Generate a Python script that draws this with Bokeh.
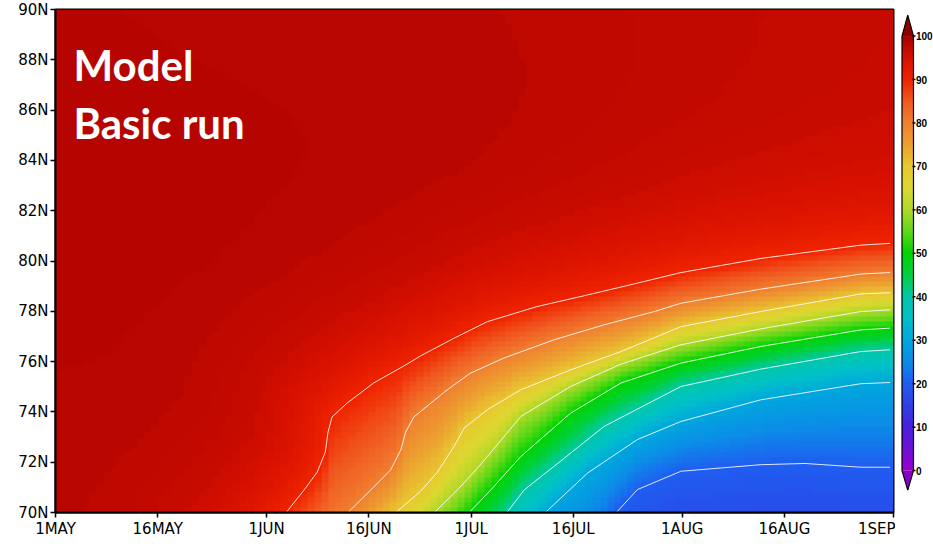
import numpy as np
from bokeh.plotting import figure
from bokeh.layouts import row
from bokeh.models import LinearColorMapper, Range1d, FixedTicker, Label
from bokeh.core.properties import value
from bokeh.embed import file_html
from bokeh.resources import INLINE

# ---------------- data ----------------
x_tick_days = [0, 15, 31, 46, 61, 76, 92, 107, 123]
x_tick_labels = ["1MAY", "16MAY", "1JUN", "16JUN", "1JUL", "16JUL", "1AUG", "16AUG", "1SEP"]
y_tick_lats = [70, 72, 74, 76, 78, 80, 82, 84, 86, 88, 90]
y_tick_labels = ["70N", "72N", "74N", "76N", "78N", "80N", "82N", "84N", "86N", "88N", "90N"]
cbar_ticks = [0, 10, 20, 30, 40, 50, 60, 70, 80, 90, 100]
cbar_labels = ["0", "10", "20", "30", "40", "50", "60", "70", "80", "90", "100"]

# contour lines of sea-ice concentration (%): day since 1 May vs latitude
c90_days = [28.0, 34.0, 36.5, 38.4, 39.6, 40.0, 40.6, 42.8, 46.7, 51.6, 53.6, 58.5, 63.4, 70.7, 78.1, 85.4, 91.8, 103.5, 118.2, 122.5]
c90_lats = [68.0, 70.05, 70.9, 71.6, 72.4, 73.2, 73.8, 74.35, 75.15, 75.9, 76.23, 76.93, 77.59, 78.19, 78.65, 79.12, 79.54, 80.1, 80.63, 80.7]
c80_days = [36.0, 43.1, 46.3, 49.2, 50.7, 51.4, 52.6, 53.6, 57.5, 60.9, 65.8, 73.2, 80.5, 87.9, 91.8, 103.5, 118.2, 122.5]
c80_lats = [68.0, 70.05, 70.9, 71.7, 72.5, 73.2, 73.8, 74.02, 74.88, 75.54, 76.14, 76.87, 77.46, 77.99, 78.32, 78.88, 79.48, 79.54]
c70_days = [43.0, 50.2, 53.6, 56.0, 58.5, 60.0, 63.4, 68.3, 75.6, 83.0, 91.8, 103.5, 118.2, 122.5]
c70_lats = [68.0, 70.05, 70.85, 71.58, 72.63, 73.36, 74.09, 74.88, 75.67, 76.4, 77.39, 77.99, 78.69, 78.74]
c60_days = [48.5, 55.8, 59.0, 61.4, 63.4, 68.3, 75.6, 83.0, 91.8, 103.5, 118.2, 122.5]
c60_lats = [68.0, 70.05, 70.9, 71.6, 72.23, 73.82, 75.01, 75.9, 76.67, 77.3, 77.99, 78.06]
c50_days = [54.5, 60.9, 63.9, 68.3, 75.6, 83.0, 91.8, 103.5, 118.2, 122.5]
c50_lats = [68.0, 70.05, 70.9, 72.23, 73.95, 75.15, 75.94, 76.6, 77.26, 77.33]
c40_days = [60.5, 66.4, 68.8, 73.2, 80.5, 91.8, 103.5, 118.2, 122.5]
c40_lats = [68.0, 70.05, 70.9, 71.84, 73.42, 75.01, 75.7, 76.4, 76.47]
c30_days = [66.0, 72.1, 78.1, 85.4, 91.8, 103.5, 118.2, 122.5]
c30_lats = [68.0, 70.05, 71.57, 72.9, 73.62, 74.48, 75.12, 75.17]
c20_days = [77.5, 82.5, 85.4, 91.8, 103.5, 110.0, 118.2, 122.5]
c20_lats = [68.0, 70.05, 70.91, 71.64, 71.9, 71.95, 71.8, 71.8]
contour_levels = [20, 30, 40, 50, 60, 70, 80, 90]

# concentration inside the pack (well above the 90% line)
hi_days = [0, 60, 123]
hi_lats = [70, 80, 90]
hi_vals = [[98.0, 98.3, 97.2],
           [98.2, 98.5, 97.0],
           [98.1, 97.8, 96.6]]
# concentration minimum south of the 20% line
lo_val = 16.0

# ---------------- colour map (style) ----------------
cm_v = [0, 5, 10, 15, 20, 25, 30, 35, 40, 45, 50, 55, 60, 65, 70, 75, 80, 85, 90, 95, 100]
cm_rgb = [(150, 0, 210), (110, 16, 216), (72, 32, 224), (48, 64, 232), (30, 94, 240),
          (12, 140, 232), (0, 168, 220), (0, 192, 200), (0, 200, 168), (0, 208, 60),
          (0, 212, 0), (96, 216, 24), (176, 216, 40), (220, 216, 48), (232, 200, 48),
          (236, 160, 48), (240, 128, 48), (240, 88, 32), (240, 36, 0), (214, 16, 0), (168, 0, 0)]
cm_arr = np.array(cm_rgb, dtype=float)
vv = np.linspace(0, 100, 256)
palette = []
for v in vv:
    r = np.interp(v, cm_v, cm_arr[:, 0]); g = np.interp(v, cm_v, cm_arr[:, 1]); b = np.interp(v, cm_v, cm_arr[:, 2])
    palette.append("#%02x%02x%02x" % (int(round(r)), int(round(g)), int(round(b))))
mapper = LinearColorMapper(palette=palette, low=0, high=100)

# ---------------- build the field from the read contours ----------------
cdays = [c20_days, c30_days, c40_days, c50_days, c60_days, c70_days, c80_days, c90_days]
clats = [c20_lats, c30_lats, c40_lats, c50_lats, c60_lats, c70_lats, c80_lats, c90_lats]
NX, NY = 123, 100
dc = (np.arange(NX) + 0.5) * 123.0 / NX
lc = 70.0 + (np.arange(NY) + 0.5) * 20.0 / NY
D, L = np.meshgrid(dc, lc)
lat_stack = np.array([np.interp(dc, d, l) for d, l in zip(cdays, clats)])  # (8, NX)

mid = np.zeros((NY, NX))
for j in range(NX):
    mid[:, j] = np.interp(lc, lat_stack[:, j], contour_levels)

H_rows = np.array([np.interp(dc, hi_days, r) for r in hi_vals])
H = np.zeros((NY, NX))
for j in range(NX):
    H[:, j] = np.interp(lc, hi_lats, H_rows[:, j])

K, S = 3.5, 2.3
px = np.array(c90_days) / K
py = np.array(c90_lats)
sl = np.concatenate([[0], np.cumsum(np.hypot(np.diff(px), np.diff(py)))])
tt = np.linspace(0, sl[-1], 700)
qx = np.interp(tt, sl, px); qy = np.interp(tt, sl, py)
dist = np.full((NY, NX), 1e9)
for k in range(len(tt)):
    dist = np.minimum(dist, np.hypot(D / K - qx[k], L - qy[k]))

lat90 = lat_stack[-1][None, :]
lat20 = lat_stack[0][None, :]
field = np.where(L > lat90, H - (H - 90.0) * np.exp(-dist / S), mid)
field = np.where(L < lat20, np.maximum(20.0 - 1.6 * (lat20 - L), lo_val), field)

# ---------------- main figure ----------------
p = figure(width=895, height=540, x_range=Range1d(0, 123), y_range=Range1d(70, 90),
           output_backend="svg", toolbar_location=None,
           min_border_left=55, min_border_right=2, min_border_top=9, min_border_bottom=27)
p.image(image=[field], x=0, y=70, dw=123, dh=20, color_mapper=mapper)
p.multi_line(xs=cdays, ys=clats, line_color="white", line_width=1, line_alpha=0.85)

p.xgrid.visible = False
p.ygrid.visible = False
p.outline_line_color = "black"
p.outline_line_width = 2
p.background_fill_color = "white"
p.border_fill_color = "white"

p.xaxis.ticker = FixedTicker(ticks=x_tick_days)
p.xaxis.major_label_overrides = {d: s for d, s in zip(x_tick_days, x_tick_labels)}
p.yaxis.ticker = FixedTicker(ticks=y_tick_lats)
p.yaxis.major_label_overrides = {d: s for d, s in zip(y_tick_lats, y_tick_labels)}
for ax in (p.xaxis[0], p.yaxis[0]):
    ax.axis_line_width = 2
    ax.axis_line_color = "black"
    ax.major_tick_line_width = 1.5
    ax.major_tick_line_color = "black"
    ax.major_tick_out = 5
    ax.major_tick_in = 0
    ax.minor_tick_line_color = None
    ax.major_label_text_font = "DejaVu Sans"
    ax.major_label_text_font_size = "15px"
    ax.major_label_text_color = "black"
    ax.major_label_standoff = 2

p.add_layout(Label(x=2.64, y=87.78, text="Model", text_color="white", text_font="Lato",
                   text_font_style="bold", text_font_size="42px", text_baseline="alphabetic"))
p.add_layout(Label(x=2.64, y=85.48, text="Basic run", text_color="white", text_font="Lato",
                   text_font_style="bold", text_font_size="42px", text_baseline="alphabetic"))

# ---------------- colour bar figure ----------------
PX_PER = 4.665
def vpage(y):
    return (495.0 - y) / PX_PER
cb = figure(width=38, height=540, x_range=Range1d(0, 38), y_range=Range1d(vpage(540), vpage(0)),
            x_axis_type=None, y_axis_type=None, min_border=0, toolbar_location=None,
            output_backend="svg")
cb.outline_line_color = None
cb.xgrid.visible = False
cb.ygrid.visible = False
grad = np.linspace(0, 100, 256).reshape(-1, 1)
x0, x1 = 6.5, 18.0
xm = (x0 + x1) / 2
top_tip, bot_tip = vpage(6), vpage(516)
cb.image(image=[grad], x=x0, y=0, dw=x1 - x0, dh=100, color_mapper=mapper)
cb.patch([x0, x1, xm], [100, 100, top_tip], fill_color="#8c0000", line_color=None)
cb.patch([x0, x1, xm], [0, 0, bot_tip], fill_color="#8a00c8", line_color=None)
cb.line([x0, xm, x1, x1, xm, x0, x0], [100, top_tip, 100, 0, bot_tip, 0, 100], line_color="black", line_width=1.2)
cb.segment(x0=[x1 - 1] * len(cbar_ticks), x1=[x1 + 2] * len(cbar_ticks), y0=cbar_ticks, y1=cbar_ticks,
           line_color="black", line_width=1.5)
cb.text(x=[x1 + 2.5] * len(cbar_ticks), y=cbar_ticks, text=cbar_labels, text_font=value("Liberation Sans"),
        text_font_style="bold", text_font_size="10px", text_baseline="middle", text_align="left",
        text_color="black")

layout = row(p, cb, spacing=0)
open("out.html", "w").write(file_html(layout, INLINE))
